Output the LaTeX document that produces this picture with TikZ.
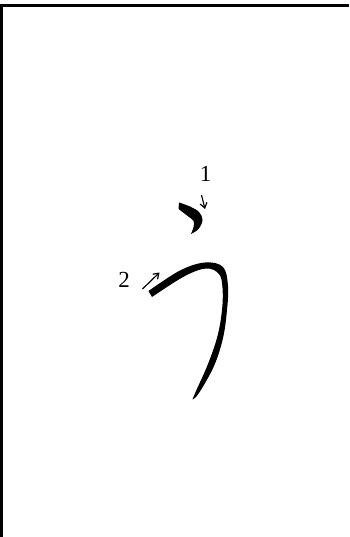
\documentclass[tikz,border=0pt]{standalone}
\usepackage{fontspec}
\setmainfont{Liberation Serif}
\usetikzlibrary{arrows.meta}
\begin{document}
\begin{tikzpicture}[x=1pt,y=-1pt,
  frameline/.style={line width=3pt,black},
  brush/.style={fill=black},
  hint/.style={line width=1.2pt,-{Straight Barb[length=5pt,width=7pt,line width=1.2pt]}},
  num/.style={font=\fontsize{23}{23}\selectfont,inner sep=0pt,text=black,draw=none}]
\useasboundingbox (0,0) rectangle (349,537);
% frame
\draw[frameline] (0,5.3) -- (349,5.3);
\draw[frameline] (1.5,4) -- (1.5,537);
% stroke 1
\fill[brush] plot[smooth,tension=0.6] coordinates {(179,202.5) (190,206.5) (199,212) (202.5,220) (198.5,229) (191,234)}
  -- plot[smooth,tension=0.6] coordinates {(191,234) (193.5,227) (193.5,221) (187,215.5) (178.5,209)} -- cycle;
% stroke 2
\fill[brush] plot[smooth,tension=0.6] coordinates {(148.5,291) (180,270.5) (205,262.5) (223,267) (228,286) (227,310) (223,338) (214,366) (199,393) (192.5,399.5)}
  -- plot[smooth,tension=0.6] coordinates {(192.5,399.5) (196,391) (208,364) (217.5,336) (222,310) (222.5,288) (219,274) (206,268.5) (184,276.5) (152,297)} -- cycle;
% labels
\node[num] (n1) at (205.5,174) {1};
\node[num] (n2) at (124,280) {2};
% direction arrows
\coordinate (a1s) at (201.5,195);
\coordinate (a1e) at (205,209);
\coordinate (a2s) at (142.5,289);
\coordinate (a2e) at (159.5,272.5);
\draw[hint] (a1s) -- (a1e);
\draw[hint] (a2s) -- (a2e);
\end{tikzpicture}
\end{document}
